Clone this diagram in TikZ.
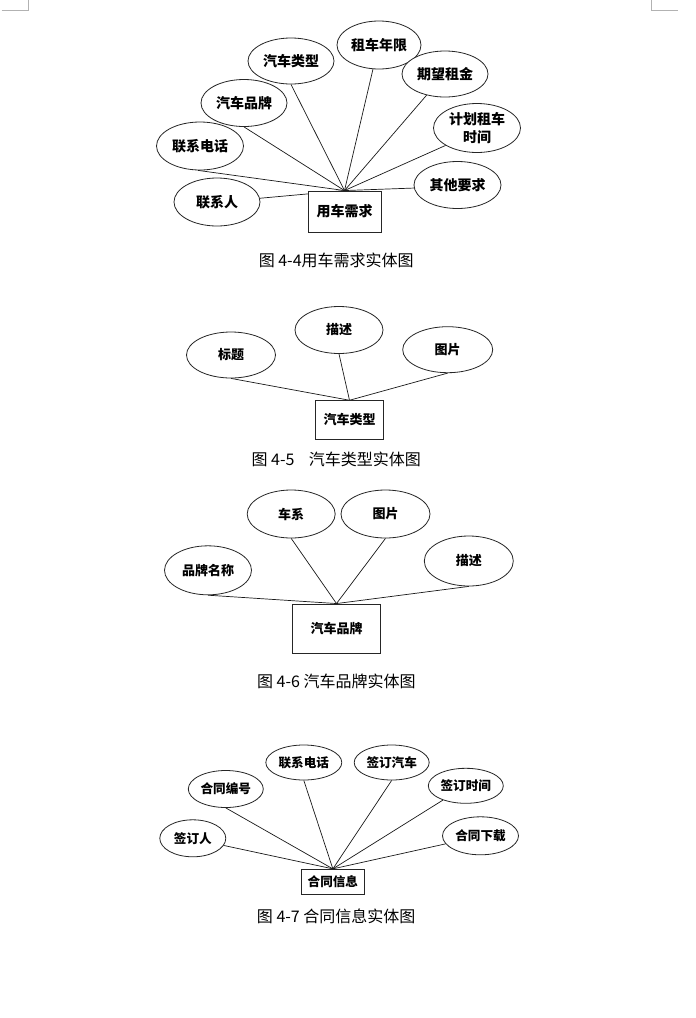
\documentclass[tikz,border=0pt]{standalone}
\usepackage{fontspec}
\setmainfont{Noto Sans CJK SC}
\usetikzlibrary{shapes.geometric}
\pgfdeclarelayer{paper}
\pgfdeclarelayer{bg}
\pgfsetlayers{paper,bg,main}
\begin{document}
\begin{tikzpicture}[x=1pt,y=-1pt,
  attr/.style 2 args={ellipse, draw=black!85, line width=0.8pt, fill=white, inner sep=0pt,
    minimum width=#1pt, minimum height=#2pt, align=center},
  ent/.style 2 args={rectangle, draw=black!85, line width=0.9pt, fill=white, inner sep=0pt,
    minimum width=#1pt, minimum height=#2pt},
  fa/.style={font=\bfseries\fontsize{14}{17.3}\selectfont},
  fb/.style={font=\bfseries\fontsize{13}{15.6}\selectfont},
  fc/.style={font=\bfseries\fontsize{12.6}{15}\selectfont},
  captxt/.style={inner sep=0pt, font=\fontsize{16}{19}\selectfont},
  link/.style={line width=0.7pt, draw=black!90},
  cornermark/.style={draw=black!30, line width=0.8pt}]
\begin{pgfonlayer}{paper}
\fill[white] (0,0) rectangle (696,1018);
\end{pgfonlayer}
\useasboundingbox (0,0) rectangle (696,1018);
\draw[cornermark] (1.7,10.3) -- (28.3,10.3) -- (28.3,0);
\draw[cornermark] (651.3,0) -- (651.3,10.3) -- (677.7,10.3);

% ---------- Diagram 4-4 ----------
\node[attr={84}{48}, fa] (d1a) at (379,45) {租车年限};
\node[attr={86}{46}, fa] (d1b) at (291,61) {汽车类型};
\node[attr={86}{46}, fa] (d1c) at (445,74) {期望租金};
\node[attr={86}{47}, fa] (d1d) at (244,103) {汽车品牌};
\node[attr={87}{49}, fa] (d1e) at (477,128) {计划租车\\时间};
\node[attr={87}{48}, fa] (d1f) at (200,146) {联系电话};
\node[attr={87}{47}, fa] (d1g) at (457.5,185) {其他要求};
\node[attr={86}{48}, fa] (d1h) at (217,202) {联系人};
\node[ent={73}{41}, fa] (E1) at (344.5,211.5) {用车需求};
\node[captxt] (c1) at (336.2,260.5) {图 4-4用车需求实体图};

% ---------- Diagram 4-5 ----------
\node[attr={89}{46}, fb] (d2a) at (231,355) {标题};
\node[attr={88}{47}, fb] (d2b) at (339,330) {描述};
\node[attr={90}{46}, fb] (d2c) at (447.7,349.7) {图片};
\node[ent={67.6}{38.3}, fb] (E2) at (349.5,419.85) {汽车类型};
\node[captxt] (c2) at (336.3,459) {图 4-5\hspace{0.9em}汽车类型实体图};

% ---------- Diagram 4-6 ----------
\node[attr={88}{48}, fb] (d3a) at (291.2,514) {车系};
\node[attr={89}{48}, fb] (d3b) at (385.5,514) {图片};
\node[attr={87}{49}, fb] (d3c) at (208,570.3) {品牌名称};
\node[attr={89}{50}, fb] (d3d) at (468.8,561) {描述};
\node[ent={88.4}{49.3}, fb] (E3) at (336.5,628.65) {汽车品牌};
\node[captxt] (c3) at (336.3,681.7) {图 4-6 汽车品牌实体图};

% ---------- Diagram 4-7 ----------
\node[attr={76}{35}, fc] (d4a) at (303.8,762.5) {联系电话};
\node[attr={75}{35}, fc] (d4b) at (391.7,762.5) {签订汽车};
\node[attr={75}{37}, fc] (d4c) at (225.8,789) {合同编号};
\node[attr={75}{35}, fc] (d4d) at (465.8,785.8) {签订时间};
\node[attr={66}{37}, fc] (d4e) at (192.8,838.3) {签订人};
\node[attr={76}{38}, fc] (d4f) at (480.5,835.8) {合同下载};
\node[ent={62.3}{24.7}, fc] (E4) at (332.85,881.65) {合同信息};
\node[captxt] (c4) at (336.2,916) {图 4-7 合同信息实体图};

\begin{pgfonlayer}{bg}
  \draw[link] (E1.north) -- (d1a.256);
  \draw[link] (E1.north) -- (d1b.south);
  \draw[link] (E1.north) -- (d1c.229);
  \draw[link] (E1.north) -- (d1d.south);
  \draw[link] (E1.north) -- (d1e.209);
  \draw[link] (E1.north) -- (d1f.265);
  \draw[link] (E1.north) -- (d1g.184);
  \draw[link] (E1.north) -- (d1h.5);

  \draw[link] (E2.north) -- (d2a.south);
  \draw[link] (E2.north) -- (d2b.south);
  \draw[link] (E2.north) -- (d2c.south);

  \draw[link] (E3.north) -- (d3a.south);
  \draw[link] (E3.north) -- (d3b.south);
  \draw[link] (E3.north) -- (d3c.south);
  \draw[link] (E3.north) -- (d3d.south);

  \draw[link] (E4.north) -- (d4a.south);
  \draw[link] (E4.north) -- (d4b.south);
  \draw[link] (E4.north) -- (d4c.south);
  \draw[link] (E4.north) -- (d4d.212);
  \draw[link] (E4.north) -- (d4e.347);
  \draw[link] (E4.north) -- (d4f.193);
\end{pgfonlayer}
\end{tikzpicture}
\end{document}
